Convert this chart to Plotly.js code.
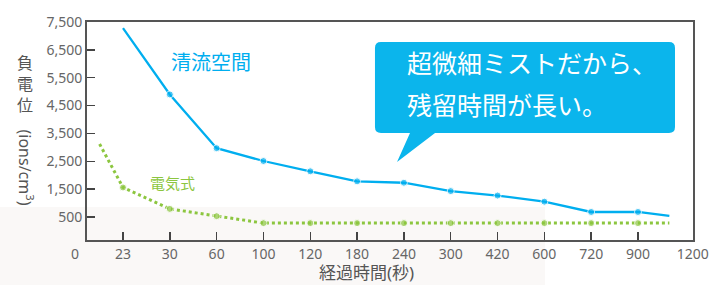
<!DOCTYPE html>
<html><head><meta charset="utf-8">
<script src="https://cdn.plot.ly/plotly-3.0.1.min.js"></script>
<style>html,body{margin:0;padding:0;background:#fff}#c{width:713px;height:285px}</style>
</head><body><div id="c"></div>
<script>
// categories (x tick labels) placed at index 1..12
const categories = ["23","30","60","100","120","180","240","300","420","600","720","900"];
const catIdx = [1,2,3,4,5,6,7,8,9,10,11,12];
const endLabel = "1200";
const originLabel = "0";

// 清流空間 (blue) : values at each category, plus a run-out to the right edge
const blueName = "清流空間";
const blueVals = [7280,4900,2970,2510,2140,1780,1730,1430,1270,1050,680,680];
const blueTailX = 12.67, blueTailY = 540;

// 電気式 (green) : lead-in from the left, values at each category, run-out
const greenName = "電気式";
const greenLeadX = 0.5, greenLeadY = 3120;
const greenVals = [1560,790,530,280,280,280,280,280,280,280,280,280];
const greenTailX = 12.67, greenTailY = 280;

const yTicks = [500,1500,2500,3500,4500,5500,6500,7500];
const yTickText = ["500","1,500","2,500","3,500","4,500","5,500","6,500","7,500"];

const yTitleChars = ["負","電","位"];
const yTitleTail = "(ions/cm<sup>3</sup>)";
const xTitle = "経過時間(秒)";
const callout1 = "超微細ミストだから、";
const callout2 = "残留時間が長い。";

const BLUE = "#00aeef", GREEN = "#8cc63f", GRAY = "#666666";
const FONT = "Noto Sans, Noto Sans CJK JP, sans-serif";

const blueX = catIdx.concat([blueTailX]);
const blueY = blueVals.concat([blueTailY]);
const blueSizes = blueVals.map((v,i)=> i===0 ? 0 : 7).concat([0]);

const greenX = [greenLeadX].concat(catIdx, [greenTailX]);
const greenY = [greenLeadY].concat(greenVals, [greenTailY]);
const greenSizes = [0].concat(greenVals.map(()=>7), [0]);

const traces = [
  {x: greenX, y: greenY, type:"scatter", mode:"lines+markers", name: greenName,
   line:{color:GREEN, width:3, dash:"3px,3px"}, marker:{color:GREEN, size:greenSizes}, cliponaxis:false},
  {x: blueX, y: blueY, type:"scatter", mode:"lines+markers", name: blueName,
   line:{color:BLUE, width:2.3}, marker:{color:BLUE, size:blueSizes}, cliponaxis:false}
];

const X0 = 0.231, X1 = 13.175;
const C = {xanchor:"center", yanchor:"middle", showarrow:false, xref:"paper", yref:"paper"};
const annotations = [
  Object.assign({}, C, {x:-0.0198, y:-0.064, text:originLabel,
   font:{family:FONT, size:14, color:GRAY}}),
  Object.assign({}, C, {x:0.2046, y:0.812, text:blueName,
   font:{family:FONT, size:20, color:BLUE}}),
  Object.assign({}, C, {x:0.1403, y:0.2615, text:greenName,
   font:{family:FONT, size:15, color:GREEN}}),
  Object.assign({}, C, {x:0.5248, y:0.812, xanchor:"left", text:callout1,
   font:{family:FONT, size:25, color:"#ffffff"}}),
  Object.assign({}, C, {x:0.5248, y:0.619, xanchor:"left", text:callout2,
   font:{family:FONT, size:25, color:"#ffffff"}}),
  Object.assign({}, C, {x:0.462, y:-0.1468, text:xTitle,
   font:{family:FONT, size:17, color:"#555555"}}),
  Object.assign({}, C, {x:-0.1023, y:0.3326, text:yTitleTail, textangle:90,
   font:{family:FONT, size:16, color:"#555555"}}),
  Object.assign({}, C, {x:-0.1023, y:0.7156, text:yTitleChars.join("<br>"),
   font:{family:FONT, size:16, color:"#555555"}})
];

const shapes = [
  {type:"rect", xref:"paper", yref:"paper", x0:-0.1436, x1:0.7558, y0:-0.2064, y1:0.1514,
   fillcolor:"#faf8f7", line:{width:0}, layer:"below"},
  {type:"path", xref:"paper", yref:"paper", layer:"above", fillcolor:"#0bb5ec", line:{width:0},
   path:"M 0.4851,0.9083 L 0.9604,0.9083 Q 0.9703,0.9083 0.9703,0.8808 L 0.9703,0.5183 Q 0.9703,0.4908 0.9604,0.4908 L 0.5743,0.4908 L 0.5116,0.3578 L 0.5330,0.4908 L 0.4851,0.4908 Q 0.4752,0.4908 0.4752,0.5183 L 0.4752,0.8808 Q 0.4752,0.9083 0.4851,0.9083 Z"}
];

const layout = {
  width:713, height:285,
  margin:{l:87, r:20, t:22, b:45},
  paper_bgcolor:"#ffffff", plot_bgcolor:"rgba(0,0,0,0)",
  showlegend:false,
  font:{family:FONT, color:GRAY},
  xaxis:{range:[X0, X1], tickvals:catIdx.concat([13.17]), ticktext:categories.concat([endLabel]),
    ticks:"inside", ticklen:8, tickwidth:1.5, tickcolor:"#444", showgrid:false, zeroline:false,
    showline:true, linecolor:"#555", linewidth:2, mirror:true,
    tickfont:{family:FONT, size:14, color:GRAY}},
  yaxis:{range:[-326, 7500], tickvals:yTicks, ticktext:yTickText,
    ticks:"inside", ticklen:8, tickwidth:1.5, tickcolor:"#444", showgrid:false, zeroline:false,
    showline:true, linecolor:"#555", linewidth:2, mirror:true,
    tickfont:{family:FONT, size:14, color:GRAY}},
  annotations: annotations,
  shapes: shapes
};
Plotly.newPlot("c", traces, layout, {staticPlot:true, displayModeBar:false});
</script></body></html>
